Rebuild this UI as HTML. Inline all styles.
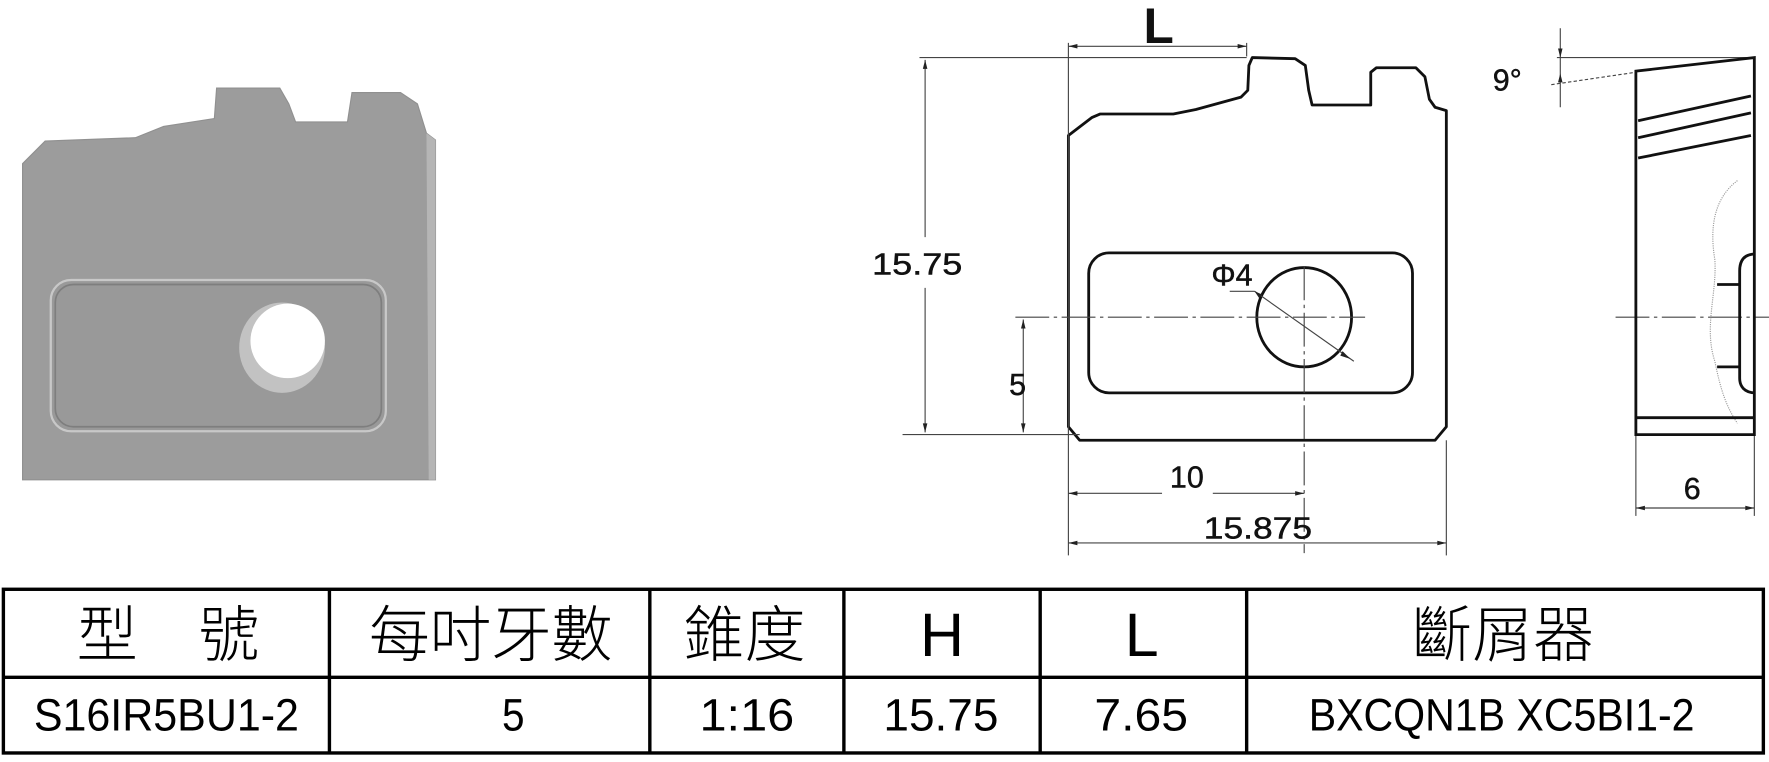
<!DOCTYPE html>
<html><head><meta charset="utf-8"><style>
html,body{margin:0;padding:0;background:#fff;width:1769px;height:762px;overflow:hidden}
svg{display:block}
</style></head><body>
<svg width="1769" height="762" viewBox="0 0 1568 675" preserveAspectRatio="none" xmlns="http://www.w3.org/2000/svg" font-family="Liberation Sans, DejaVu Sans, sans-serif">
<!-- 3D left -->
<polygon points="20,145 40,125 120,122 145,112 190,105 192,78 248,78 256,92 262,108 308,108 312,82 355,82 370,92 378,118 386,124 386,425 20,425" fill="#9c9c9c" stroke="#909090" stroke-width="1"/>
<polygon points="378,118 386,124 386,425 380,425" fill="#b5b5b5"/>
<rect x="45" y="248" width="297" height="134" rx="18" fill="#999" stroke="#c8c8c8" stroke-width="2"/>
<rect x="49" y="252" width="289" height="126" rx="16" fill="none" stroke="#7e7e7e" stroke-width="1.5"/>
<ellipse cx="250" cy="308" rx="38" ry="40" fill="#c2c2c2"/>
<ellipse cx="255" cy="302" rx="33" ry="33" fill="#fff"/>
<!-- front view -->
<g fill="none" stroke="#111" stroke-width="2.5" stroke-linejoin="round">
<path d="M947,120 L968,104 L975,101 L1040,101 L1060,97 L1100,86 L1106,80 L1107,58 L1110,51 L1148,52 L1157,58 L1160,80 L1163,93 L1215,93 L1215,64 L1220,60 L1255,60 L1263,68 L1267,88 L1272,95 L1282,98 L1282,378 L1272,390 L957,390 L947,378 Z"/>
<rect x="965" y="224" width="287" height="124" rx="18"/>
<ellipse cx="1156" cy="281" rx="42" ry="44"/>
</g>
<g stroke="#444" stroke-width="1" fill="none">
<line x1="900" y1="281" x2="1210" y2="281" stroke-dasharray="30,4,3,4"/>
<line x1="1156" y1="236" x2="1156" y2="490" stroke-dasharray="30,4,3,4"/>
<line x1="1090" y1="258" x2="1112" y2="258"/>
<line x1="1112" y1="258" x2="1200" y2="320"/>
<line x1="815" y1="51" x2="1105" y2="51"/>
<line x1="800" y1="385" x2="957" y2="385"/>
<line x1="947" y1="38" x2="947" y2="492"/>
<line x1="1105" y1="38" x2="1105" y2="50"/>
<line x1="1282" y1="390" x2="1282" y2="492"/>
<line x1="947" y1="41" x2="1105" y2="41"/>
<line x1="820" y1="53" x2="820" y2="210"/>
<line x1="820" y1="255" x2="820" y2="383"/>
<line x1="907" y1="283" x2="907" y2="383"/>
<line x1="947" y1="437" x2="1030" y2="437"/>
<line x1="1075" y1="437" x2="1156" y2="437"/>
<line x1="947" y1="481" x2="1282" y2="481"/>
<!-- side view -->
<line x1="1380" y1="51" x2="1555" y2="51"/>
<line x1="1375" y1="75" x2="1450" y2="64" stroke-dasharray="3,2"/>
<line x1="1383" y1="25" x2="1383" y2="95"/>
<line x1="1432" y1="281" x2="1568" y2="281" stroke-dasharray="30,4,3,4"/>
<line x1="1450" y1="385" x2="1450" y2="457"/>
<line x1="1555" y1="385" x2="1555" y2="457"/>
<line x1="1450" y1="450" x2="1555" y2="450"/>
<path d="M1540,160 C1520,175 1515,200 1520,230 C1522,260 1510,290 1520,320 C1525,345 1530,360 1540,375" stroke="#999" stroke-dasharray="1,1"/>
</g>
<g fill="#222">
<polygon points="947,41 955,39 955,43"/><polygon points="1105,41 1097,39 1097,43"/>
<polygon points="820,53 818,61 822,61"/><polygon points="820,383 818,375 822,375"/>
<polygon points="907,283 905,291 909,291"/><polygon points="907,383 905,375 909,375"/>
<polygon points="947,437 955,435 955,439"/><polygon points="1156,437 1148,435 1148,439"/>
<polygon points="947,481 955,479 955,483"/><polygon points="1282,481 1274,479 1274,483"/>
<polygon points="1112,258 1116,264 1119,261"/><polygon points="1197,318 1190,311 1188,315"/>
<polygon points="1450,450 1458,448 1458,452"/><polygon points="1555,450 1547,448 1547,452"/>
<polygon points="1383,51 1381,43 1385,43"/><polygon points="1383,65 1381,73 1385,73"/>
</g>
<g fill="none" stroke="#111" stroke-width="2.5">
<path d="M1450,385 L1450,63 L1555,51 L1555,385 Z"/>
<line x1="1450" y1="370" x2="1555" y2="370"/>
<line x1="1452" y1="107" x2="1552" y2="85"/>
<line x1="1452" y1="122" x2="1552" y2="100"/>
<line x1="1452" y1="140" x2="1552" y2="120"/>
<path d="M1556,225 C1545,225 1542,232 1542,240 L1542,335 C1542,342 1546,348 1556,348"/>
<line x1="1522" y1="252" x2="1542" y2="252"/>
<line x1="1522" y1="325" x2="1542" y2="325"/>
</g>
<g fill="#111" font-size="27" text-anchor="middle" stroke="#111" stroke-width="0.4">
<text x="1027" y="38" font-size="44" font-weight="bold" stroke="none">L</text>
<text x="813" y="243" textLength="80" lengthAdjust="spacingAndGlyphs">15.75</text>
<text x="902" y="350">5</text>
<text x="1052" y="432">10</text>
<text x="1115" y="477" textLength="96" lengthAdjust="spacingAndGlyphs">15.875</text>
<text x="1092" y="253">Φ4</text>
<text x="1336" y="80">9°</text>
<text x="1500" y="442">6</text>
</g>
<!-- table -->
<g stroke="#000" stroke-width="3" fill="none">
<rect x="3" y="522" width="1560" height="145"/>
<line x1="3" y1="600" x2="1563" y2="600"/>
<line x1="292" y1="522" x2="292" y2="667"/>
<line x1="576" y1="522" x2="576" y2="667"/>
<line x1="748" y1="522" x2="748" y2="667"/>
<line x1="922" y1="522" x2="922" y2="667"/>
<line x1="1105" y1="522" x2="1105" y2="667"/>
</g>
<g fill="#000" font-family="Liberation Sans, Noto Sans CJK TC, sans-serif" font-size="54" font-weight="300" text-anchor="middle">
<text x="95" y="581">型</text><text x="203" y="581">號</text>
<text x="435" y="581">每吋牙數</text>
<text x="660" y="581">錐度</text>
<text x="835" y="581">H</text>
<text x="1012" y="581">L</text>
<text x="1332" y="581">斷屑器</text>
</g>
<g fill="#000" font-size="40" text-anchor="start" font-family="Liberation Sans, sans-serif">
<text x="30" y="647" textLength="235" lengthAdjust="spacingAndGlyphs">S16IR5BU1-2</text>
<text x="445" y="647" textLength="20" lengthAdjust="spacingAndGlyphs">5</text>
<text x="620" y="647" textLength="84" lengthAdjust="spacingAndGlyphs">1:16</text>
<text x="783" y="647" textLength="102" lengthAdjust="spacingAndGlyphs">15.75</text>
<text x="970" y="647" textLength="83" lengthAdjust="spacingAndGlyphs">7.65</text>
<text x="1160" y="647" textLength="342" lengthAdjust="spacingAndGlyphs">BXCQN1B XC5BI1-2</text>
</g>
</svg>
</body></html>
